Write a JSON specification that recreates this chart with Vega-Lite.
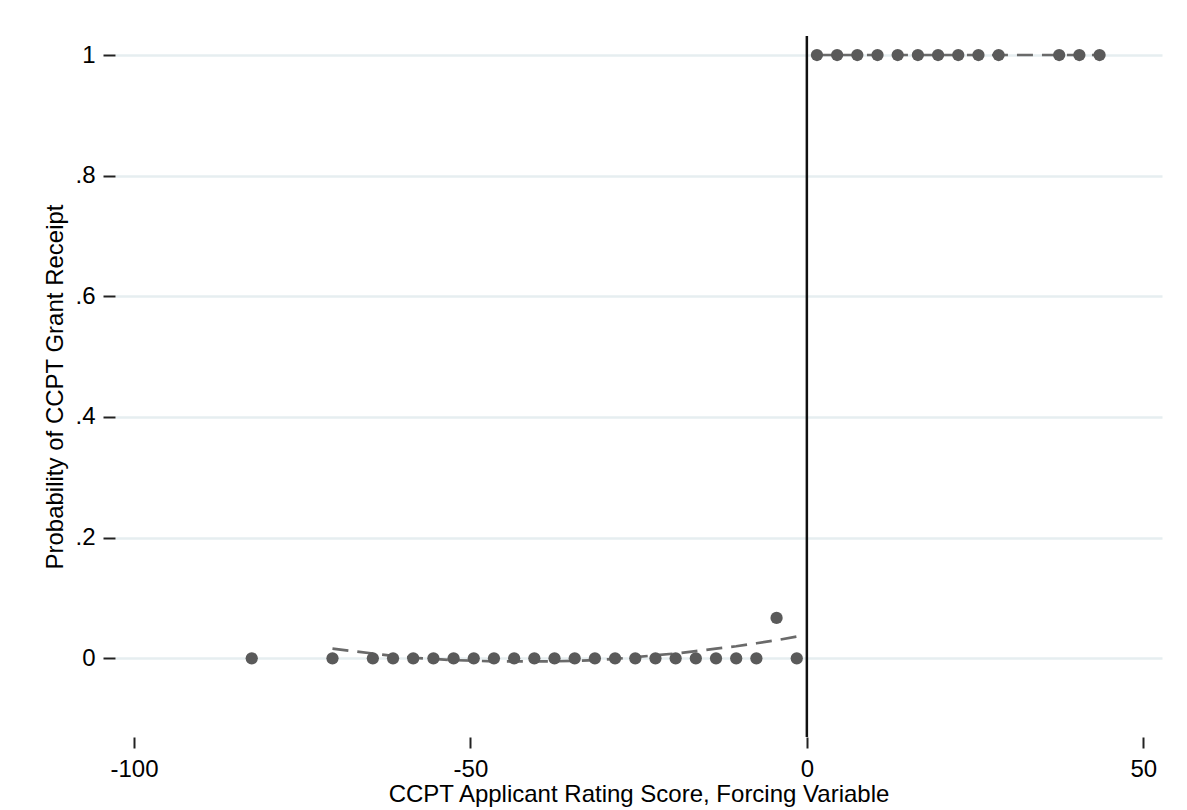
{
  "$schema": "https://vega.github.io/schema/vega-lite/v6.json",
  "width": 1047,
  "height": 701,
  "autosize": {"type": "none"},
  "padding": {"left": 115, "top": 36, "right": 25, "bottom": 73},
  "background": "white",
  "config": {
    "view": {"stroke": null},
    "font": "Liberation Sans",
    "axis": {
      "labelFont": "Liberation Sans",
      "titleFont": "Liberation Sans",
      "labelFontSize": 24,
      "titleFontSize": 24,
      "titleFontWeight": "normal",
      "labelColor": "#000000",
      "titleColor": "#000000",
      "tickColor": "#222222",
      "tickWidth": 2,
      "domain": false
    }
  },
  "datasets": {
    "bins": [
      {"score": -82.5, "prob": 0},
      {"score": -70.5, "prob": 0},
      {"score": -64.5, "prob": 0},
      {"score": -61.5, "prob": 0},
      {"score": -58.5, "prob": 0},
      {"score": -55.5, "prob": 0},
      {"score": -52.5, "prob": 0},
      {"score": -49.5, "prob": 0},
      {"score": -46.5, "prob": 0},
      {"score": -43.5, "prob": 0},
      {"score": -40.5, "prob": 0},
      {"score": -37.5, "prob": 0},
      {"score": -34.5, "prob": 0},
      {"score": -31.5, "prob": 0},
      {"score": -28.5, "prob": 0},
      {"score": -25.5, "prob": 0},
      {"score": -22.5, "prob": 0},
      {"score": -19.5, "prob": 0},
      {"score": -16.5, "prob": 0},
      {"score": -13.5, "prob": 0},
      {"score": -10.5, "prob": 0},
      {"score": -7.5, "prob": 0},
      {"score": -4.5, "prob": 0.067},
      {"score": -1.5, "prob": 0},
      {"score": 1.5, "prob": 1},
      {"score": 4.5, "prob": 1},
      {"score": 7.5, "prob": 1},
      {"score": 10.5, "prob": 1},
      {"score": 13.5, "prob": 1},
      {"score": 16.5, "prob": 1},
      {"score": 19.5, "prob": 1},
      {"score": 22.5, "prob": 1},
      {"score": 25.5, "prob": 1},
      {"score": 28.5, "prob": 1},
      {"score": 37.5, "prob": 1},
      {"score": 40.5, "prob": 1},
      {"score": 43.5, "prob": 1}
    ],
    "fit": [
      {"side": "L", "score": -70.5, "prob": 0.016},
      {"side": "L", "score": -67.5, "prob": 0.012},
      {"side": "L", "score": -64.5, "prob": 0.008},
      {"side": "L", "score": -61.5, "prob": 0.004},
      {"side": "L", "score": -58.5, "prob": 0.001},
      {"side": "L", "score": -55.5, "prob": -0.001},
      {"side": "L", "score": -52.5, "prob": -0.003},
      {"side": "L", "score": -49.5, "prob": -0.004},
      {"side": "L", "score": -46.5, "prob": -0.005},
      {"side": "L", "score": -43.5, "prob": -0.005},
      {"side": "L", "score": -40.5, "prob": -0.005},
      {"side": "L", "score": -37.5, "prob": -0.005},
      {"side": "L", "score": -34.5, "prob": -0.004},
      {"side": "L", "score": -31.5, "prob": -0.003},
      {"side": "L", "score": -28.5, "prob": -0.001},
      {"side": "L", "score": -25.5, "prob": 0.002},
      {"side": "L", "score": -22.5, "prob": 0.005},
      {"side": "L", "score": -19.5, "prob": 0.008},
      {"side": "L", "score": -16.5, "prob": 0.012},
      {"side": "L", "score": -13.5, "prob": 0.016},
      {"side": "L", "score": -10.5, "prob": 0.02},
      {"side": "L", "score": -7.5, "prob": 0.025},
      {"side": "L", "score": -4.5, "prob": 0.03},
      {"side": "L", "score": -1.5, "prob": 0.036},
      {"side": "R", "score": 1.5, "prob": 1},
      {"side": "R", "score": 43.5, "prob": 1}
    ],
    "cutoff": [{"score": 0}]
  },
  "layer": [
    {
      "data": {"name": "fit"},
      "mark": {"type": "line", "color": "#6a6a6a", "strokeWidth": 2.7, "strokeDash": [16, 9]},
      "encoding": {
        "x": {
          "field": "score", "type": "quantitative",
          "scale": {"domain": [-102.82, 52.78], "nice": false, "zero": false},
          "axis": {"values": [-100, -50, 0, 50], "grid": false, "tickSize": 11, "labelPadding": 9, "titlePadding": 1, "labelExpr": "datum.value < 0 ? '-' + abs(datum.value) : '' + datum.value"},
          "title": "CCPT Applicant Rating Score, Forcing Variable"
        },
        "y": {
          "field": "prob", "type": "quantitative",
          "scale": {"domain": [-0.1304, 1.0315], "nice": false, "zero": false},
          "axis": {
            "values": [0, 0.2, 0.4, 0.6, 0.8, 1], "grid": true, "gridColor": "#e6eef0", "gridWidth": 2.5,
            "tickSize": 12, "labelPadding": 8, "titlePadding": 7,
            "labelExpr": "datum.value == 0 ? '0' : (datum.value == 1 ? '1' : replace(format(datum.value, '.1f'), '0.', '.'))"
          },
          "title": "Probability of CCPT Grant Receipt"
        },
        "detail": {"field": "side"}
      }
    },
    {
      "data": {"name": "bins"},
      "mark": {"type": "point", "filled": true, "shape": "circle", "size": 150, "color": "#5a5a5a", "opacity": 1},
      "encoding": {
        "x": {
          "field": "score", "type": "quantitative",
          "scale": {"domain": [-102.82, 52.78], "nice": false, "zero": false},
          "axis": {"values": [-100, -50, 0, 50], "grid": false, "tickSize": 11, "labelPadding": 9, "titlePadding": 1, "labelExpr": "datum.value < 0 ? '-' + abs(datum.value) : '' + datum.value"},
          "title": "CCPT Applicant Rating Score, Forcing Variable"
        },
        "y": {
          "field": "prob", "type": "quantitative",
          "scale": {"domain": [-0.1304, 1.0315], "nice": false, "zero": false},
          "axis": {
            "values": [0, 0.2, 0.4, 0.6, 0.8, 1], "grid": true, "gridColor": "#e6eef0", "gridWidth": 2.5,
            "tickSize": 12, "labelPadding": 8, "titlePadding": 7,
            "labelExpr": "datum.value == 0 ? '0' : (datum.value == 1 ? '1' : replace(format(datum.value, '.1f'), '0.', '.'))"
          },
          "title": "Probability of CCPT Grant Receipt"
        }
      }
    },
    {
      "data": {"name": "cutoff"},
      "mark": {"type": "rule", "color": "#111111", "strokeWidth": 2.5},
      "encoding": {
        "x": {
          "field": "score", "type": "quantitative",
          "scale": {"domain": [-102.82, 52.78], "nice": false, "zero": false},
          "axis": {"values": [-100, -50, 0, 50], "grid": false, "tickSize": 11, "labelPadding": 9, "titlePadding": 1, "labelExpr": "datum.value < 0 ? '-' + abs(datum.value) : '' + datum.value"},
          "title": "CCPT Applicant Rating Score, Forcing Variable"
        }
      }
    }
  ]
}
